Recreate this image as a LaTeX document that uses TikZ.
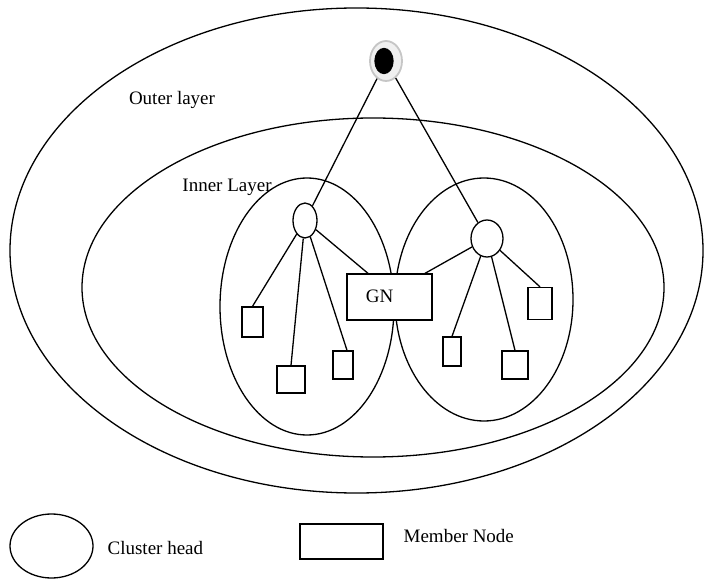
\documentclass[tikz,border=0pt]{standalone}
\usepackage{fontspec}
\setmainfont{Liberation Serif}
\usetikzlibrary{shapes.geometric}
\begin{document}
\begin{tikzpicture}[x=1pt,y=-1pt,line width=1.3pt,
  ell/.style={draw,ellipse,inner sep=0pt},
  mem/.style={draw,rectangle,inner sep=0pt,fill=white},
  lbl/.style={font=\fontsize{19}{22}\selectfont,inner sep=0pt}]
\useasboundingbox (0,0) rectangle (704,580);
% layers and clusters
\node[ell,minimum width=693pt,minimum height=485pt] (outer) at (356.5,250.5) {};
\node[ell,minimum width=582pt,minimum height=339pt] (inner) at (373,287.5) {};
\node[ell,minimum width=174pt,minimum height=257pt] (lcl) at (307,306.5) {};
\node[ell,minimum width=178pt,minimum height=243pt] (rcl) at (484,299.5) {};
% sink
\node[ell,draw=gray!45,fill=gray!12,line width=1.8pt,minimum width=32pt,minimum height=40pt] (sink) at (386,61) {};
\node[ell,fill=black,minimum width=18pt,minimum height=25pt] (sinkcore) at (384,61) {};
% cluster heads
\node[ell,minimum width=24pt,minimum height=35pt] (lch) at (305,220.5) {};
\node[ell,minimum width=32pt,minimum height=37pt] (rch) at (487,238.5) {};
% gateway node
\node[mem,minimum width=85pt,minimum height=46pt] (gn) at (389.5,297) {};
\node[lbl] (gnlabel) at (379.5,296) {GN};
% member nodes
\node[mem,minimum width=21pt,minimum height=30pt] (s1) at (252.5,322) {};
\node[mem,minimum width=28pt,minimum height=27pt] (s2) at (291,379.5) {};
\node[mem,minimum width=20pt,minimum height=28pt] (s3) at (343,365) {};
\node[mem,minimum width=18pt,minimum height=29pt] (r1) at (452,351.5) {};
\node[mem,minimum width=26pt,minimum height=28pt] (r2) at (515,365) {};
\node[mem,minimum width=24pt,minimum height=32pt] (r3) at (540,303.5) {};
% links
\draw (sink) -- (lch);
\draw (sink) -- (rch);
\draw (lch) -- (s1.north);
\draw (lch) -- (s2.north);
\draw (lch) -- ([xshift=4pt]s3.north);
\draw (lch) -- ([xshift=-21.5pt]gn.north);
\draw (rch) -- ([xshift=35.5pt]gn.north);
\draw (rch) -- (r1.north);
\draw (rch) -- (r2.north);
\draw (rch) -- (r3.north);
% labels
\node[lbl] (outerlbl) at (172,100) {Outer layer};
\node[lbl] (innerlbl) at (227,187) {Inner Layer};
% legend
\node[ell,minimum width=83pt,minimum height=64pt] (legch) at (51.5,546) {};
\node[lbl,anchor=west] (legchtext) at (107,548) {Cluster head};
\node[mem,minimum width=83pt,minimum height=35pt] (legmem) at (341.5,541.5) {};
\node[lbl,anchor=west] (legmemtext) at (403,536) {Member Node};
\end{tikzpicture}
\end{document}
